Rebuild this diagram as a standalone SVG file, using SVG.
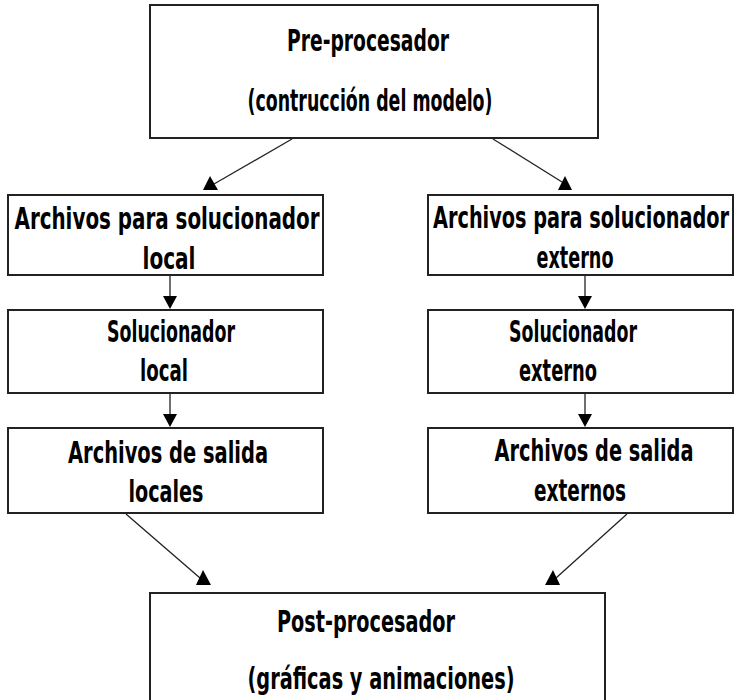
<svg xmlns="http://www.w3.org/2000/svg" width="737" height="700" viewBox="0 0 737 700">
<style>
.box{fill:#fff;stroke:#222;stroke-width:2}
.t{font-family:"Liberation Sans Narrow","DejaVu Sans Condensed","Liberation Sans",sans-serif;font-size:31px;font-weight:bold;fill:#000;text-anchor:middle}
.ln{stroke:#222;stroke-width:1.3;fill:none}
.ah{fill:#000}
</style>
<rect width="737" height="700" fill="#fff"/>
<g id="connectors">
<line class="ln" x1="292" y1="139" x2="214" y2="184"/>
<polygon class="ah" points="210,176 203,190 218,190"/>
<line class="ln" x1="493" y1="139" x2="562" y2="182"/>
<polygon class="ah" points="565,176 558,190 572,190"/>
<line class="ln" x1="170" y1="275" x2="170" y2="298"/>
<polygon class="ah" points="163,296 177,296 170,309"/>
<line class="ln" x1="585" y1="275" x2="585" y2="298"/>
<polygon class="ah" points="578,296 592,296 585,309"/>
<line class="ln" x1="170" y1="393" x2="170" y2="416"/>
<polygon class="ah" points="163,414 177,414 170,427"/>
<line class="ln" x1="585" y1="393" x2="585" y2="416"/>
<polygon class="ah" points="578,414 592,414 585,427"/>
<line class="ln" x1="126" y1="514" x2="200" y2="578"/>
<polygon class="ah" points="203,570 196,585 211,585"/>
<line class="ln" x1="627" y1="514" x2="556" y2="578"/>
<polygon class="ah" points="553,570 545,585 560,585"/>
</g>
<g id="pre">
<rect class="box" x="150" y="5" width="448" height="133"/>
<text class="t" x="368" y="51" textLength="162" lengthAdjust="spacingAndGlyphs">Pre-procesador</text>
<text class="t" x="370" y="111" textLength="245" lengthAdjust="spacingAndGlyphs">(contrucción del modelo)</text>
</g>
<g id="arch-local">
<rect class="box" x="8" y="195" width="315" height="80"/>
<text class="t" x="167" y="229" textLength="305" lengthAdjust="spacingAndGlyphs">Archivos para solucionador</text>
<text class="t" x="169" y="269" textLength="53" lengthAdjust="spacingAndGlyphs">local</text>
</g>
<g id="arch-ext">
<rect class="box" x="428" y="195" width="305" height="80"/>
<text class="t" x="581" y="228" textLength="296" lengthAdjust="spacingAndGlyphs">Archivos para solucionador</text>
<text class="t" x="575" y="268" textLength="77" lengthAdjust="spacingAndGlyphs">externo</text>
</g>
<g id="sol-local">
<rect class="box" x="8" y="310" width="315" height="83"/>
<text class="t" x="171" y="342" textLength="128" lengthAdjust="spacingAndGlyphs">Solucionador</text>
<text class="t" x="164" y="381" textLength="48" lengthAdjust="spacingAndGlyphs">local</text>
</g>
<g id="sol-ext">
<rect class="box" x="428" y="310" width="305" height="83"/>
<text class="t" x="573" y="342" textLength="128" lengthAdjust="spacingAndGlyphs">Solucionador</text>
<text class="t" x="558" y="381" textLength="78" lengthAdjust="spacingAndGlyphs">externo</text>
</g>
<g id="sal-local">
<rect class="box" x="8" y="428" width="315" height="85"/>
<text class="t" x="168" y="463" textLength="200" lengthAdjust="spacingAndGlyphs">Archivos de salida</text>
<text class="t" x="166" y="502" textLength="75" lengthAdjust="spacingAndGlyphs">locales</text>
</g>
<g id="sal-ext">
<rect class="box" x="428" y="428" width="305" height="85"/>
<text class="t" x="594" y="461" textLength="199" lengthAdjust="spacingAndGlyphs">Archivos de salida</text>
<text class="t" x="580" y="501" textLength="92" lengthAdjust="spacingAndGlyphs">externos</text>
</g>
<g id="post">
<rect class="box" x="150" y="593" width="455" height="120"/>
<text class="t" x="366" y="632" textLength="178" lengthAdjust="spacingAndGlyphs">Post-procesador</text>
<text class="t" x="381" y="689" textLength="267" lengthAdjust="spacingAndGlyphs">(gráficas y animaciones)</text>
</g>
</svg>
